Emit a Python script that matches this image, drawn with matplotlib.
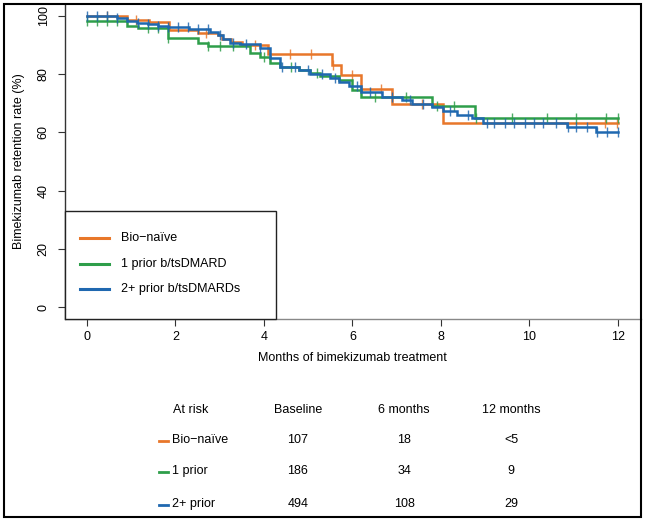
import numpy as np
import matplotlib
matplotlib.use('Agg')
import matplotlib.pyplot as plt
from matplotlib.lines import Line2D
from matplotlib.patches import Rectangle

plt.rcParams['font.family'] = ['Liberation Sans', 'DejaVu Sans']
plt.rcParams['font.size'] = 9

# ---------------- data ----------------
groups = ["Bio\u2212naïve", "1 prior b/tsDMARD", "2+ prior b/tsDMARDs"]
colors = ["#E8772A", "#2E9E4A", "#1F68B0"]

naive_t = [0, 0.9, 1.4, 1.85, 2.5, 2.95, 3.05, 3.25, 3.5, 4.09, 5.53, 5.75, 6.2, 6.9, 8.04]
naive_v = [100, 98.6, 98.0, 95.0, 94.3, 93.5, 92.0, 91.0, 90.0, 86.8, 83.2, 79.6, 74.9, 69.6, 63.3]
naive_cens = [0.45, 1.1, 2.7, 3.8, 4.58, 5.07, 5.55, 5.98, 6.65, 7.58, 11.7, 11.97]

one_t = [0, 0.9, 1.15, 1.83, 2.5, 2.73, 3.68, 3.9, 4.13, 4.36, 4.8, 5.03, 5.26, 5.7, 6.0, 6.2, 7.8, 8.76]
one_v = [98.3, 96.6, 95.7, 92.4, 90.8, 89.7, 87.3, 86.0, 84.0, 82.6, 81.4, 80.4, 79.2, 78.0, 74.6, 72.3, 69.2, 65.1]
one_cens = [0, 0.22, 0.45, 0.68, 1.38, 1.6, 1.83, 2.73, 3.0, 3.3, 4.0, 4.6, 5.2, 6.5, 7.2,
            7.9, 8.3, 8.8, 9.6, 10.4, 11.06, 11.74, 12.0]

two_t = [0, 0.68, 0.9, 1.13, 1.38, 1.6, 1.83, 2.3, 2.78, 2.96, 3.07, 3.23, 3.45, 3.9, 4.13, 4.36,
         4.8, 5.03, 5.5, 5.7, 5.93, 6.2, 6.66, 7.13, 7.35, 7.8, 8.04, 8.37, 8.7, 8.94, 10.84, 11.5]
two_v = [100, 99.2, 98.4, 97.7, 97.2, 96.7, 96.3, 95.4, 94.4, 93.5, 92.0, 90.8, 90.3, 88.9, 85.5, 82.6,
         81.4, 80.0, 78.6, 77.4, 75.8, 74.0, 72.3, 71.1, 69.7, 68.8, 67.5, 66.0, 64.8, 63.1, 61.7, 60.2]
two_cens = [0, 0.22, 0.45, 0.68, 1.15, 1.38, 1.6, 1.83, 2.05, 2.28, 2.5, 2.73, 3.0, 3.3, 3.6, 3.9,
            4.4, 4.7, 5.0, 5.3, 5.6, 6.1, 6.4, 6.9, 7.3, 7.6, 8.2, 8.6, 9.03, 9.2, 9.44, 9.66, 9.89,
            10.1, 10.3, 10.6, 10.86, 11.06, 11.29, 11.53, 11.76, 11.99]

end_time = 12
x_ticks = [0, 2, 4, 6, 8, 10, 12]
y_ticks = [0, 20, 40, 60, 80, 100]

risk_header = ["At risk", "Baseline", "6 months", "12 months"]
risk_rows = ["Bio\u2212naïve", "1 prior", "2+ prior"]
risk_values = [["107", "18", "<5"],
               ["186", "34", "9"],
               ["494", "108", "29"]]

series = [(naive_t, naive_v, naive_cens), (one_t, one_v, one_cens), (two_t, two_v, two_cens)]

# ---------------- figure ----------------
W, H = 651, 527
fig = plt.figure(figsize=(W / 100, H / 100), dpi=100)
fx = lambda p: p / W
fy = lambda p: 1 - p / H

ax = fig.add_axes([fx(65), fy(319), fx(641) - fx(65), fy(4) - fy(319)])
ax.set_xlim(-0.497, 12.52)
ax.set_ylim(-4.12, 104.1)

for (t, v, cens), col in zip(series, colors):
    tt = list(t) + [end_time]
    vv = list(v) + [v[-1]]
    ax.step(tt, vv, where='post', color=col, lw=1.8, solid_joinstyle='miter')
    idx = np.searchsorted(np.array(t), np.array(cens), side='right') - 1
    cv = np.array(v)[idx]
    ax.plot(cens, cv, ls='none', marker='|', ms=7.5, mew=1.0, color=col, alpha=0.85)

for s in ['top', 'right']:
    ax.spines[s].set_visible(False)
ax.spines['left'].set_color('#333333')
ax.spines['bottom'].set_color('#888888')
ax.spines['left'].set_linewidth(1.0)
ax.spines['bottom'].set_linewidth(1.0)

ax.set_xticks(x_ticks)
ax.set_yticks(y_ticks)
ax.tick_params(axis='x', length=5, width=0.8, color='#333333', pad=4, labelsize=9)
ax.tick_params(axis='y', length=5, width=0.8, color='#333333', pad=6, labelsize=9, labelrotation=90)
for lab in ax.get_yticklabels():
    lab.set_va('center')

fig.text(fx(19), fy(161.5), "Bimekizumab retention rate (%)", rotation=90, ha='center', va='center', fontsize=9)
fig.text(fx(352), fy(358), "Months of bimekizumab treatment", ha='center', va='center', fontsize=9)

# legend (manual box)
fig.add_artist(Rectangle((fx(65), fy(319)), fx(276) - fx(65), fy(211) - fy(319),
                         transform=fig.transFigure, fc='white', ec='#222222', lw=1.0, zorder=5))
for name, col, yy in zip(groups, colors, [238, 263.5, 289]):
    fig.add_artist(Line2D([fx(80), fx(109)], [fy(yy), fy(yy)], transform=fig.transFigure,
                          color=col, lw=2.2, zorder=6))
    fig.text(fx(121), fy(yy), name, ha='left', va='center', fontsize=9, zorder=6)

# at-risk table
col_x = [173, 298, 404, 511]
fig.text(fx(col_x[0]), fy(410), risk_header[0], ha='left', va='center', fontsize=9)
for j in range(1, 4):
    fig.text(fx(col_x[j]), fy(410), risk_header[j], ha='center', va='center', fontsize=9)
for i, (lab, col, yy) in enumerate(zip(risk_rows, colors, [440, 471, 504])):
    fig.add_artist(Line2D([fx(159), fx(168)], [fy(yy + 1), fy(yy + 1)], transform=fig.transFigure,
                          color=col, lw=2.0))
    fig.text(fx(172), fy(yy), lab, ha='left', va='center', fontsize=9)
    for j in range(3):
        fig.text(fx(col_x[j + 1]), fy(yy), risk_values[i][j], ha='center', va='center', fontsize=9)

# outer frame
fig.add_artist(Rectangle((fx(4), fy(517)), fx(641) - fx(4), fy(4) - fy(517),
                         transform=fig.transFigure, fill=False, ec='black', lw=1.5, zorder=10))

fig.savefig('out.png', dpi=100)
